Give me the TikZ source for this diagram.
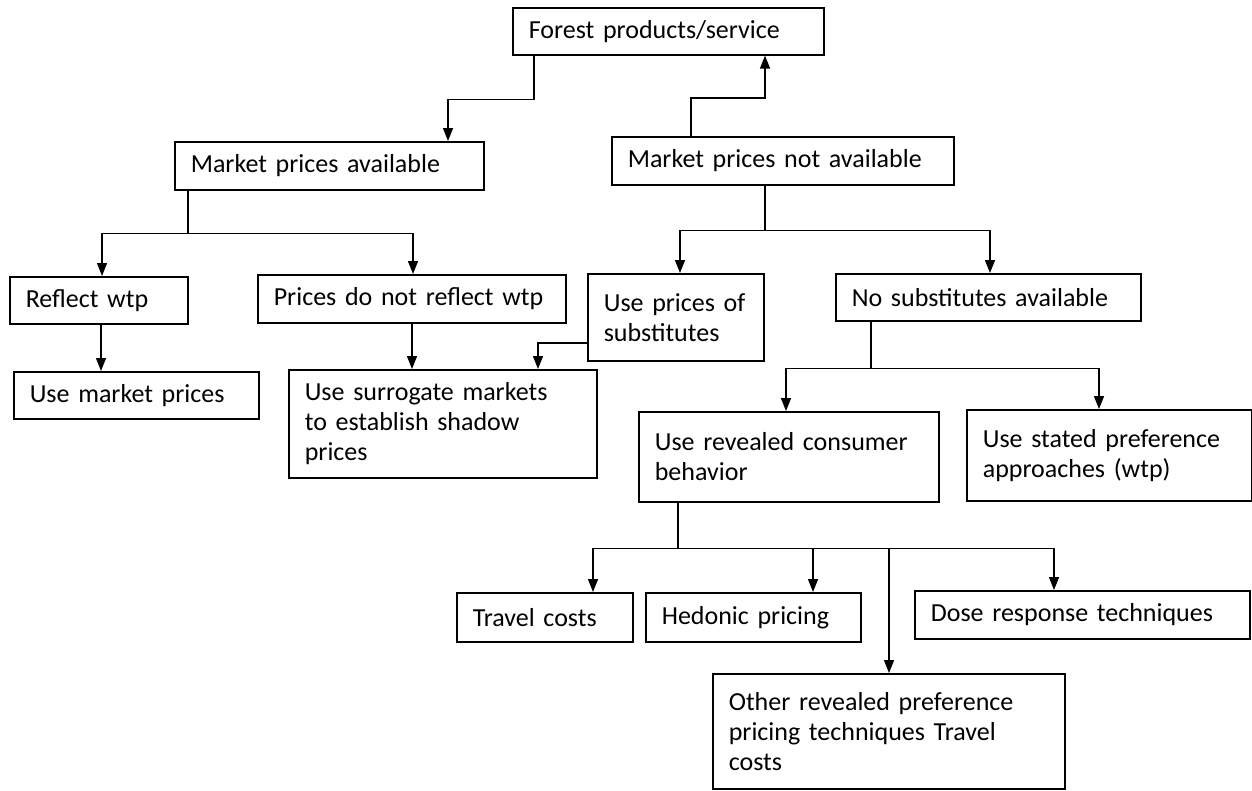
\documentclass[tikz,border=0pt]{standalone}
\usepackage{fontspec}
\setmainfont{Carlito}
\usetikzlibrary{arrows.meta}
\begin{document}
\begin{tikzpicture}[x=1pt,y=-1pt,
  bx/.style={draw, line width=1.6pt, anchor=north west, inner xsep=16pt, inner ysep=3pt,
    align=left, font=\fontsize{26}{30}\selectfont},
  arr/.style={line width=1.4pt, -{Triangle[width=10pt,length=13pt]}},
  ln/.style={line width=1.4pt}]
\useasboundingbox (0,0) rectangle (1252,790);
% boxes
\node[bx, minimum width=311pt, minimum height=47pt, text width=279pt] (forest) at (512,7) {Forest products/service};
\node[bx, minimum width=309pt, minimum height=48pt, text width=277pt] (mpa) at (174,141) {Market prices available};
\node[bx, minimum width=342pt, minimum height=48pt, text width=310pt] (mpna) at (611,136) {Market prices not available};
\node[bx, minimum width=178pt, minimum height=47pt, text width=146pt] (refl) at (9,276) {Reflect wtp};
\node[bx, minimum width=308pt, minimum height=48pt, text width=276pt] (pnr) at (257,274) {Prices do not reflect wtp};
\node[bx, minimum width=176pt, minimum height=87pt, text width=144pt] (ups) at (587,273) {Use prices of\\substitutes};
\node[bx, minimum width=305pt, minimum height=47pt, text width=273pt] (nsa) at (835,273) {No substitutes available};
\node[bx, minimum width=245pt, minimum height=47pt, text width=213pt] (ump) at (13,371) {Use market prices};
\node[bx, minimum width=308pt, minimum height=108pt, text width=276pt] (usm) at (288,369) {Use surrogate markets\\to establish shadow\\prices};
\node[bx, minimum width=300pt, minimum height=90pt, text width=268pt] (urc) at (638,411) {Use revealed consumer\\behavior};
\node[bx, minimum width=285pt, minimum height=91pt, text width=253pt] (usp) at (966,409) {Use stated preference\\approaches (wtp)};
\node[bx, minimum width=176pt, minimum height=49pt, text width=144pt] (tc) at (456,592) {Travel costs};
\node[bx, minimum width=215pt, minimum height=49pt, text width=183pt] (hp) at (645,592) {Hedonic pricing};
\node[bx, minimum width=335pt, minimum height=48pt, text width=303pt] (drt) at (914,590) {Dose response techniques};
\node[bx, minimum width=352pt, minimum height=115pt, text width=320pt] (oth) at (712,673) {Other revealed preference\\pricing techniques Travel\\costs};
% connectors
\draw[arr] ([xshift=22pt]forest.south west) -- ++(0,44) -| ([xshift=274pt]mpa.north west);
\draw[arr] ([xshift=80pt]mpna.north west) -- ++(0,-38) -| ([xshift=253pt]forest.south west);
\draw[ln] ([xshift=14pt]mpa.south west) -- ++(0,43) coordinate (j1);
\draw[arr] (j1) -| ([xshift=93pt]refl.north west);
\draw[arr] (j1) -| ([xshift=156pt]pnr.north west);
\draw[ln] ([xshift=154pt]mpna.south west) -- ++(0,45) coordinate (j2);
\draw[arr] (j2) -| ([xshift=93pt]ups.north west);
\draw[arr] (j2) -| ([xshift=155pt]nsa.north west);
\draw[arr] ([xshift=92pt]refl.south west) -- ([xshift=92pt]refl.south west |- ump.north);
\draw[arr] ([xshift=155pt]pnr.south west) -- ([xshift=155pt]pnr.south west |- usm.north);
\draw[arr] ([yshift=-70pt]ups.north west) -| ([xshift=250pt]usm.north west);
\draw[ln] ([xshift=36pt]nsa.south west) -- ++(0,47) coordinate (j3);
\draw[arr] (j3) -| ([xshift=148pt]urc.north west);
\draw[arr] (j3) -| ([xshift=133pt]usp.north west);
\draw[ln] ([xshift=40pt]urc.south west) -- ++(0,46) coordinate (j4);
\draw[arr] (j4) -| ([xshift=137pt]tc.north west);
\draw[arr] (j4) -| ([xshift=168pt]hp.north west);
\draw[arr] (j4) -| ([xshift=140pt]drt.north west);
\draw[arr] (j4) -| ([xshift=177pt]oth.north west);
\end{tikzpicture}
\end{document}
